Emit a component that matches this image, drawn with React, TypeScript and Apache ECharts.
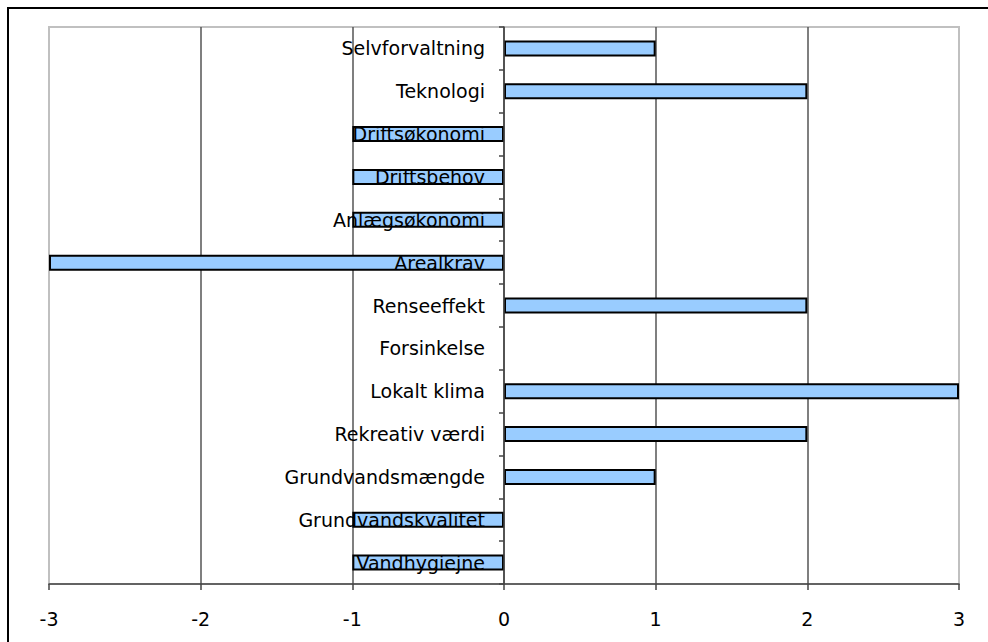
import React, { useEffect, useRef } from "react";
import * as echarts from "echarts";

const categories = [
  "Vandhygiejne",
  "Grundvandskvalitet",
  "Grundvandsmængde",
  "Rekreativ værdi",
  "Lokalt klima",
  "Forsinkelse",
  "Renseeffekt",
  "Arealkrav",
  "Anlægsøkonomi",
  "Driftsbehov",
  "Driftsøkonomi",
  "Teknologi",
  "Selvforvaltning",
];
const values = [-1, -1, 1, 2, 3, 0, 2, -3, -1, -1, -1, 2, 1];
const xMin = -3;
const xMax = 3;

export default function App() {
  const ref = useRef<HTMLDivElement>(null);
  useEffect(() => {
    if (!ref.current) return;
    const chart = echarts.init(ref.current, null, { renderer: "svg" });
    const font = "'DejaVu Sans', Verdana, sans-serif";
    const gridLeft = 49;
    const gridRight = 29;
    const gridWidth = 988 - gridLeft - gridRight;
    const zeroOffset = (gridWidth * (0 - xMin)) / (xMax - xMin);
    chart.setOption({
      animation: false,
      backgroundColor: "#fff",
      graphic: [
        {
          type: "rect",
          shape: { x: 8, y: 8, width: 1000, height: 700 },
          style: { fill: "none", stroke: "#000", lineWidth: 2 },
          silent: true,
          z: 100,
        },
      ],
      grid: {
        left: gridLeft,
        top: 27,
        right: gridRight,
        bottom: 58,
        containLabel: false,
        outerBoundsMode: "none",
        show: true,
        borderColor: "#c0c0c0",
        borderWidth: 2,
        backgroundColor: "#fff",
      },
      xAxis: {
        type: "value",
        min: xMin,
        max: xMax,
        interval: 1,
        position: "bottom",
        axisLine: { show: true, onZero: false, lineStyle: { color: "#444", width: 1.5 } },
        axisTick: { show: true, length: 6, lineStyle: { color: "#444", width: 1.5 } },
        axisLabel: { color: "#000", fontFamily: font, fontSize: 19, margin: 25 },
        splitLine: {
          show: true,
          lineStyle: {
            color: ["#c0c0c0", "#555", "#555", "#555", "#555", "#555", "#c0c0c0"],
            width: 1.5,
          },
        },
      },
      yAxis: {
        type: "category",
        data: categories,
        position: "left",
        offset: -zeroOffset,
        z: 10,
        axisLine: { show: true, onZero: false, lineStyle: { color: "#444", width: 1.5 } },
        axisTick: { show: true, length: 5, lineStyle: { color: "#444", width: 1.5 } },
        axisLabel: { color: "#000", fontFamily: font, fontSize: 19, margin: 19 },
        splitLine: { show: false },
      },
      series: [
        {
          type: "bar",
          data: values.map((v) => ({
            value: v,
            itemStyle: v === 0 ? { borderWidth: 0 } : undefined,
          })),
          barWidth: 16,
          itemStyle: { color: "#99ccff", borderColor: "#000", borderWidth: 2 },
        },
      ],
    });
    return () => chart.dispose();
  }, []);
  return (
    <div
      ref={ref}
      style={{ position: "fixed", left: 0, top: 0, width: 988, height: 642 }}
    />
  );
}
